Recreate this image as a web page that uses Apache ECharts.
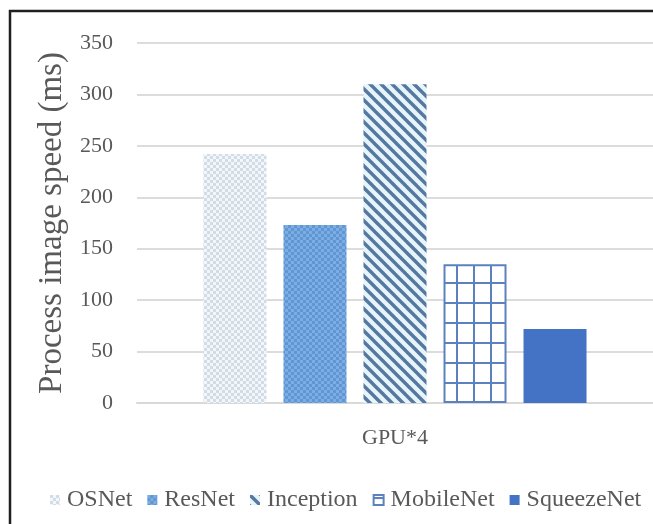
<!DOCTYPE html>
<html>
<head>
<meta charset="utf-8">
<script src="https://cdn.jsdelivr.net/npm/echarts@6/dist/echarts.min.js"></script>
<style>
  html, body { margin: 0; padding: 0; background: #ffffff; }
  #chart { width: 653px; height: 524px; }
</style>
</head>
<body>
<div id="chart"></div>
<script>
// Processing time per image on four GPUs, one bar per network
const categories = ['GPU*4'];
const seriesNames = ['OSNet', 'ResNet', 'Inception', 'MobileNet', 'SqueezeNet'];
const osnetValues = [242];
const resnetValues = [173];
const inceptionValues = [310];
const mobilenetValues = [135];
const squeezenetValues = [72];
const yTicks = { min: 0, max: 350, step: 50 };

const FONT = '"Liberation Serif", "Times New Roman", serif';
const TEXT_COLOR = '#595959';

// Small canvas tiles used as fill patterns for the bars
function tile(w, h, draw) {
  const c = document.createElement('canvas');
  c.width = w; c.height = h;
  draw(c.getContext('2d'), w, h);
  return { image: c, repeat: 'repeat' };
}
function checker(a, b, cell) {
  return tile(cell * 2, cell * 2, (g) => {
    g.fillStyle = a; g.fillRect(0, 0, cell * 2, cell * 2);
    g.fillStyle = b;
    g.fillRect(0, 0, cell, cell);
    g.fillRect(cell, cell, cell, cell);
  });
}
const dottedLight = checker('#f4f7fa', '#d2dce7', 3);
const dottedBlue = checker('#5e97d4', '#7dade2', 3);
const diagonal = tile(11, 11, (g, w, h) => {
  g.fillStyle = '#e6f4fc'; g.fillRect(0, 0, w, h);
  g.strokeStyle = '#56789f'; g.lineWidth = 3.4;
  for (let k = -1; k <= 1; k++) {
    g.beginPath(); g.moveTo(k * w - 2, -2); g.lineTo(k * w + w + 2, h + 2); g.stroke();
  }
});
const gridTile = tile(17, 20, (g) => {
  g.fillStyle = '#ffffff'; g.fillRect(0, 0, 17, 20);
  g.fillStyle = '#5b82bf';
  g.fillRect(14, 0, 2, 20);
  g.fillRect(0, 2, 17, 2);
});

function bar(name, data, color, extra) {
  return Object.assign({
    name, type: 'bar', data,
    barWidth: 63, barGap: '27%',
    itemStyle: { color },
    emphasis: { disabled: true }
  }, extra || {});
}

const chart = echarts.init(document.getElementById('chart'), null, { renderer: 'canvas' });
chart.setOption({
  backgroundColor: '#ffffff',
  animation: false,
  textStyle: { fontFamily: FONT },
  graphic: [{
    type: 'rect', silent: true,
    shape: { x: 10, y: 11, width: 700, height: 600 },
    style: { fill: 'none', stroke: '#1f1f1f', lineWidth: 2.5 }
  }],
  grid: { left: 137, top: 43, width: 520, height: 360, containLabel: false },
  legend: {
    data: seriesNames,
    left: 45, top: 483,
    itemWidth: 10, itemHeight: 10, itemGap: 15,
    icon: 'rect',
    textStyle: { fontFamily: FONT, fontSize: 24, color: TEXT_COLOR, padding: [0, 0, 0, 2] }
  },
  xAxis: {
    type: 'category', data: categories,
    axisLine: { lineStyle: { color: '#d9d9d9', width: 2 } },
    axisTick: { show: false },
    axisLabel: { fontFamily: FONT, fontSize: 22, color: TEXT_COLOR, margin: 24 }
  },
  yAxis: {
    type: 'value', min: yTicks.min, max: yTicks.max, interval: yTicks.step,
    name: 'Process image speed (ms)',
    nameLocation: 'middle', nameRotate: 90, nameGap: 62,
    nameTextStyle: { fontFamily: FONT, fontSize: 33, color: TEXT_COLOR },
    axisLine: { show: false }, axisTick: { show: false },
    axisLabel: { fontFamily: FONT, fontSize: 22, color: TEXT_COLOR, margin: 24 },
    splitLine: { lineStyle: { color: '#dcdcdc', width: 2 } }
  },
  series: [
    bar(seriesNames[0], osnetValues, dottedLight),
    bar(seriesNames[1], resnetValues, dottedBlue),
    bar(seriesNames[2], inceptionValues, diagonal),
    bar(seriesNames[3], mobilenetValues, gridTile, {
      itemStyle: { color: gridTile, borderColor: '#5b82bf', borderWidth: 2 }
    }),
    bar(seriesNames[4], squeezenetValues, '#4472c4')
  ]
});
</script>
</body>
</html>
